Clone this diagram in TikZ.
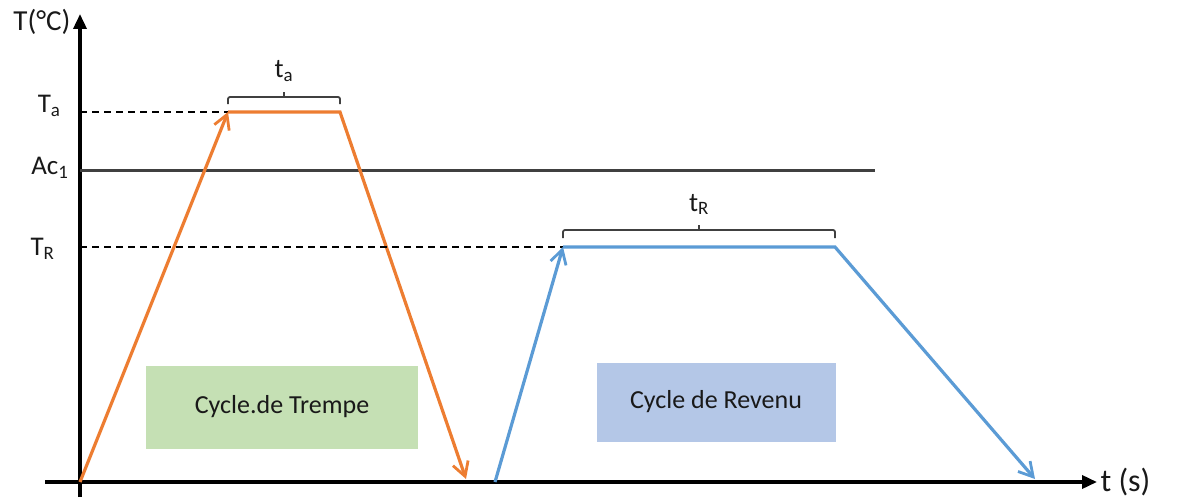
\documentclass[tikz,border=0pt]{standalone}
\usepackage{fontspec}
\setmainfont{Carlito}
\usetikzlibrary{arrows.meta,calc}
\definecolor{quenchorange}{RGB}{237,125,49}
\definecolor{temperblue}{RGB}{91,155,213}
\definecolor{quenchgreen}{RGB}{197,224,180}
\definecolor{temperfill}{RGB}{180,199,231}
\definecolor{ruledark}{RGB}{64,64,64}
\tikzset{
  axis/.style={black, line width=3.5pt, -{Triangle[length=15pt,width=13pt]}},
  level/.style={black, line width=1.8pt, dash pattern=on 7pt off 5pt},
  acline/.style={ruledark, line width=3pt},
  quench/.style={quenchorange, line width=3.2pt},
  temper/.style={temperblue, line width=3.2pt},
  ramp/.style={-{Straight Barb[length=14pt,width=16pt,line width=2.8pt]}},
  span/.style={ruledark, line width=1.8pt, rounded corners=2pt},
  lab/.style={font=\fontsize{27}{32}\selectfont, text=black!90},
  cyclebox/.style={minimum width=272pt, minimum height=83pt,
                   font=\fontsize{26}{31}\selectfont, text=black!90},
}

\begin{document}
\begin{tikzpicture}[x=1pt,y=-1pt]
  \path[use as bounding box] (0,0) rectangle (1180,503);

  % axes
  \coordinate (O) at (80,482);
  \coordinate (ybot) at (80,497);
  \coordinate (ytop) at (80,14);
  \coordinate (xleft) at (45,482);
  \coordinate (xright) at (1097,482);
  \draw[axis] (ybot) -- (ytop);
  \draw[axis] (xleft) -- (xright);
  \node[lab, anchor=east, font=\fontsize{29}{34}\selectfont] (Tlab) at (74,22) {T(°C)};
  \node[lab, anchor=west, font=\fontsize{32}{36}\selectfont] (tlab) at (1097,482) {t (s)};

  % levels
  \coordinate (Ta0) at (80,112);
  \coordinate (Ac0) at (80,170);
  \coordinate (Ac1) at (875,170);
  \coordinate (TR0) at (80,247);
  \node[lab, anchor=east] (Talab) at (64,106) {T\textsubscript{a}};
  \node[lab, anchor=east] (Aclab) at (72,168) {Ac\textsubscript{1}};
  \node[lab, anchor=east] (TRlab) at (58,249) {T\textsubscript{R}};
  \draw[acline] (Ac0) -- (Ac1);

  % quench cycle
  \coordinate (Qa) at (228,112);
  \coordinate (Qb) at (340,112);
  \coordinate (Qend) at (466,479);
  \draw[level] (Ta0) -- (Qa);
  \draw[quench, ramp] (O) -- (Qa);
  \draw[quench, ramp] (Qa) -- (Qb) -- (Qend);
  \coordinate (Qmid) at ($(Qa)!0.5!(Qb)$);
  \draw[span] ([yshift=8pt]Qa) -- ([yshift=15pt]Qa) -- ([yshift=15pt]Qb)
    -- ([yshift=8pt]Qb);
  \draw[span] ([yshift=15pt]Qmid) -- ([yshift=20pt]Qmid)
    node[lab, above=6pt] (talab) {t\textsubscript{a}};

  % tempering cycle
  \coordinate (Rs) at (495,482);
  \coordinate (Ra) at (563,247);
  \coordinate (Rb) at (835,247);
  \coordinate (Rend) at (1035,479);
  \draw[level] (TR0) -- (Ra);
  \draw[temper, ramp] (Rs) -- (Ra);
  \draw[temper, ramp] (Ra) -- (Rb) -- (Rend);
  \coordinate (Rmid) at ($(Ra)!0.5!(Rb)$);
  \draw[span] ([yshift=9pt]Ra) -- ([yshift=17pt]Ra) -- ([yshift=17pt]Rb)
    -- ([yshift=9pt]Rb);
  \draw[span] ([yshift=17pt]Rmid) -- ([yshift=22pt]Rmid)
    node[lab, above=6pt] (tRlab) {t\textsubscript{R}};

  % cycle labels
  \node[cyclebox, fill=quenchgreen] (trempe) at (282,407) {Cycle.de Trempe};
  \node[cyclebox, fill=temperfill, minimum width=239pt, minimum height=79pt]
    (revenu) at (716,402) {Cycle de Revenu};
\end{tikzpicture}
\end{document}
